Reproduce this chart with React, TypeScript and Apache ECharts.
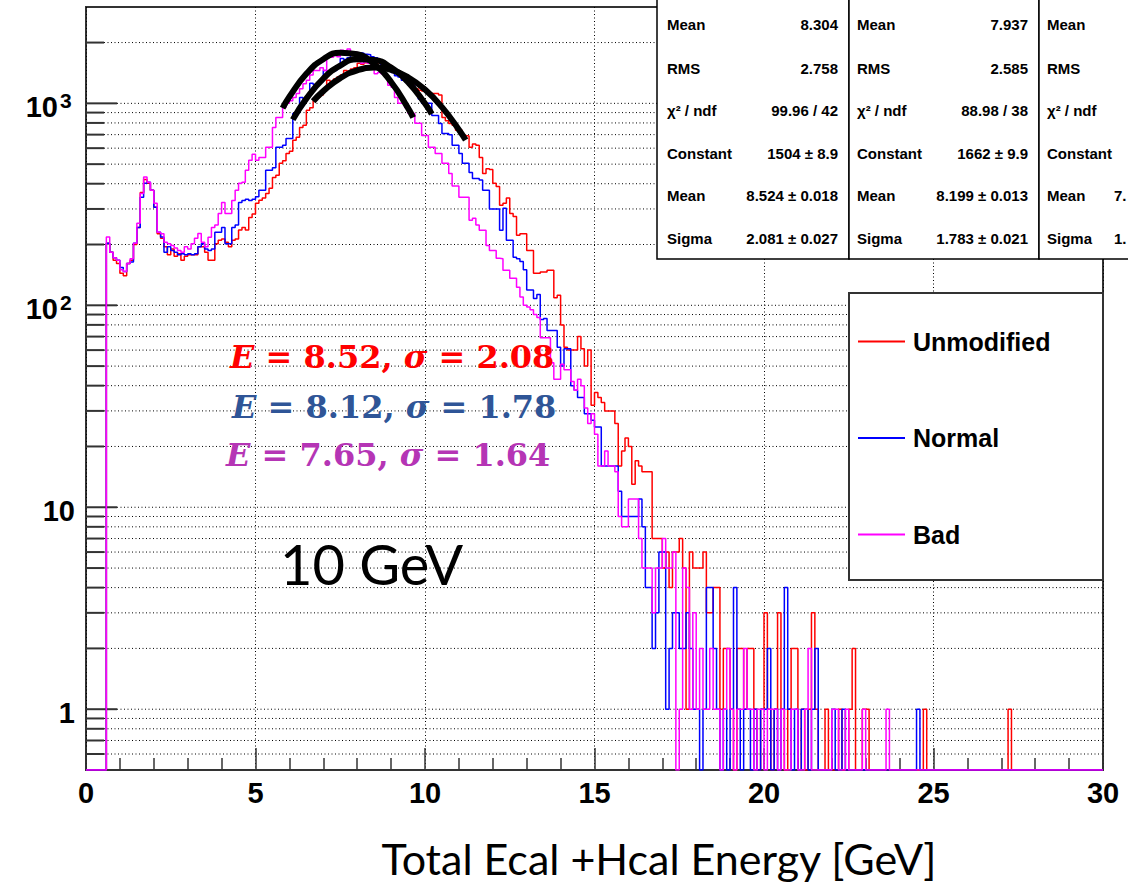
import React, { useEffect, useRef } from 'react';
import * as echarts from 'echarts';

// ---------- data ----------
const BIN_WIDTH = 0.1; // GeV, 300 bins from 0 to 30

// Unmodified (red) counts per 0.1 GeV bin, one row per GeV
const unmodified = [
  0, 0, 0, 0, 0, 0, 203, 183, 167, 161,
  144, 140, 161, 167, 200, 243, 362, 420, 402, 371,
  306, 226, 215, 195, 178, 190, 175, 180, 167, 175,
  178, 178, 178, 195, 195, 183, 167, 167, 202, 210,
  213, 205, 195, 210, 213, 236, 243, 236, 272, 283,
  320, 331, 340, 358, 380, 430, 440, 505, 520, 565,
  580, 656, 680, 760, 780, 924, 950, 1030, 1070, 1100,
  1150, 1300, 1280, 1320, 1350, 1380, 1456, 1440, 1480, 1500,
  1580, 1560, 1590, 1580, 1600, 1570, 1590, 1560, 1540, 1550,
  1450, 1430, 1400, 1376, 1376, 1300, 1250, 1180, 1160, 1150,
  1140, 1130, 1120, 1120, 1100, 850, 820, 795, 780, 735,
  735, 694, 690, 606, 630, 620, 540, 450, 475, 470,
  402, 387, 313, 320, 340, 285, 275, 222, 226, 226,
  187, 187, 144, 144, 146, 146, 149, 149, 109, 112,
  80, 62, 60, 60, 60, 70, 61, 50, 60, 32,
  37, 35, 33, 30, 30, 30, 26, 16, 19, 22,
  20, 13, 17, 16, 15, 15, 15, 7, 7, 7,
  5, 6, 4, 6, 6, 7, 5, 1, 6, 5,
  5, 5, 6, 3, 3, 4, 4, 1, 2, 2,
  1, 0, 2, 2, 1, 2, 2, 1, 0, 1,
  3, 1, 0, 1, 3, 1, 0, 1, 2, 2,
  0, 1, 0, 1, 3, 1, 0, 0, 1, 0,
  0, 0, 1, 0, 0, 1, 2, 0, 0, 1,
  1, 0, 0, 0, 0, 0, 0, 0, 0, 0,
  0, 0, 0, 0, 0, 0, 0, 1, 0, 0,
  0, 0, 0, 0, 0, 0, 0, 0, 0, 0,
  0, 0, 0, 0, 0, 0, 0, 0, 0, 0,
  0, 0, 1, 0, 0, 0, 0, 0, 0, 0,
  0, 0, 0, 0, 0, 0, 0, 0, 0, 0,
  0, 0, 0, 0, 0, 0, 0, 0, 0, 0,
];

// Normal (blue)
const normal = [
  0, 0, 0, 0, 0, 0, 203, 183, 172, 167,
  154, 147, 161, 164, 203, 243, 343, 402, 407, 371,
  306, 230, 218, 183, 195, 187, 183, 178, 180, 178,
  180, 178, 180, 195, 202, 190, 187, 190, 230, 230,
  243, 202, 202, 243, 250, 323, 330, 335, 330, 335,
  345, 371, 371, 466, 466, 480, 606, 606, 620, 670,
  670, 890, 900, 1070, 1050, 1080, 1256, 1240, 1260, 1280,
  1456, 1440, 1470, 1456, 1500, 1670, 1650, 1680, 1770, 1760,
  1780, 1770, 1750, 1740, 1700, 1680, 1640, 1456, 1470, 1456,
  1420, 1370, 1350, 1300, 1280, 1228, 1228, 1150, 1050, 1000,
  1000, 1000, 870, 870, 795, 710, 710, 700, 620, 620,
  565, 505, 505, 455, 425, 425, 417, 371, 371, 300,
  300, 300, 235, 302, 210, 210, 173, 170, 165, 150,
  119, 119, 108, 113, 85, 86, 75, 75, 75, 62,
  50, 61, 61, 40, 38, 35, 35, 29, 29, 27,
  25, 25, 16, 16, 16, 16, 16, 12, 9, 9,
  9, 9, 9, 11, 8, 4, 4, 2, 3, 6,
  6, 1, 2, 3, 3, 2, 2, 3, 2, 1,
  1, 0, 1, 4, 4, 2, 1, 0, 1, 0,
  1, 4, 1, 0, 1, 1, 0, 1, 0, 1,
  1, 2, 0, 1, 0, 1, 4, 1, 0, 1,
  0, 1, 1, 0, 1, 2, 0, 0, 0, 0,
  1, 0, 0, 1, 0, 0, 0, 0, 0, 0,
  0, 0, 0, 0, 0, 0, 0, 0, 0, 0,
  0, 0, 0, 0, 0, 1, 0, 0, 0, 0,
  0, 0, 0, 0, 0, 0, 0, 0, 0, 0,
  0, 0, 0, 0, 0, 0, 0, 0, 0, 0,
  0, 0, 0, 0, 0, 0, 0, 0, 0, 0,
  0, 0, 0, 0, 0, 0, 0, 0, 0, 0,
  0, 0, 0, 0, 0, 0, 0, 0, 0, 0,
];

// Bad (magenta)
const bad = [
  0, 0, 0, 0, 0, 0, 218, 183, 172, 167,
  150, 147, 161, 170, 203, 255, 358, 432, 407, 371,
  320, 230, 226, 205, 202, 198, 192, 187, 183, 195,
  190, 202, 215, 227, 205, 195, 217, 243, 250, 285,
  323, 285, 285, 330, 371, 402, 407, 466, 522, 560,
  522, 540, 540, 606, 606, 760, 852, 852, 955, 1000,
  1030, 1070, 1120, 1180, 1250, 1300, 1380, 1456, 1456, 1500,
  1456, 1690, 1690, 1727, 1700, 1830, 1800, 1860, 1770, 1790,
  1770, 1580, 1600, 1580, 1560, 1400, 1420, 1400, 1380, 1228,
  1200, 1070, 1000, 1000, 955, 892, 892, 796, 796, 694,
  694, 606, 606, 565, 565, 505, 505, 450, 390, 390,
  343, 343, 343, 264, 270, 250, 235, 235, 198, 187,
  187, 171, 170, 149, 149, 136, 136, 123, 110, 100,
  98, 95, 90, 87, 69, 69, 69, 52, 43, 43,
  51, 48, 48, 42, 38, 43, 40, 31, 26, 29,
  23, 16, 16, 19, 16, 16, 15, 9, 8, 8,
  11, 11, 11, 7, 5, 5, 5, 3, 5, 5,
  7, 5, 5, 6, 0, 1, 5, 4, 1, 3,
  1, 2, 1, 1, 2, 1, 1, 0, 1, 2,
  1, 0, 1, 1, 2, 1, 1, 0, 1, 1,
  0, 1, 1, 1, 0, 1, 0, 0, 1, 1,
  0, 0, 1, 2, 0, 0, 0, 0, 0, 0,
  1, 1, 0, 0, 1, 0, 0, 0, 0, 1,
  0, 0, 0, 0, 0, 0, 1, 0, 0, 0,
  0, 0, 0, 0, 0, 0, 0, 0, 0, 0,
  0, 0, 0, 0, 0, 0, 0, 0, 0, 0,
  0, 0, 0, 0, 0, 0, 0, 0, 0, 0,
  0, 0, 0, 0, 0, 0, 0, 0, 0, 0,
  0, 0, 0, 0, 0, 0, 0, 0, 0, 0,
  0, 0, 0, 0, 0, 0, 0, 0, 0, 0,
];

// Gaussian fit curves: [energy, value]
const fitUnmodified = [
  [6.7, 1024], [7.0, 1150], [7.5, 1333], [8.0, 1457], [8.5, 1504], [9.0, 1465],
  [9.5, 1347], [10.0, 1170], [10.5, 958], [11.0, 741], [11.2, 658],
];
const fitNormal = [
  [6.1, 831], [6.5, 1055], [7.0, 1326], [7.5, 1539], [8.0, 1652], [8.5, 1638],
  [9.0, 1503], [9.5, 1274], [10.0, 998], [10.2, 885],
];
const fitBad = [
  [5.8, 947], [6.0, 1079], [6.5, 1400], [7.0, 1655], [7.5, 1783], [8.0, 1750],
  [8.5, 1565], [9.0, 1276], [9.5, 947], [9.65, 851],
];

const seriesNames = ['Unmodified', 'Normal', 'Bad'];
const seriesColors = ['#ff0000', '#0000ff', '#ff00ff'];

const yMajorTicks = [1, 10, 100, 1000];
const yMajorBase = ['1', '10', '10', '10'];
const yMajorExp = ['', '', '2', '3'];
const yMinorTicks = [
  0.6, 0.7, 0.8, 0.9, 2, 3, 4, 5, 6, 7, 8, 9,
  20, 30, 40, 50, 60, 70, 80, 90, 200, 300, 400, 500, 600, 700, 800, 900, 2000,
];

const statsLabels = ['Mean', 'RMS', 'χ² / ndf', 'Constant', 'Mean', 'Sigma'];
const statsUnmodified = ['8.304', '2.758', '99.96 / 42', '1504 ± 8.9', '8.524 ± 0.018', '2.081 ± 0.027'];
const statsNormal = ['7.937', '2.585', '88.98 / 38', '1662 ± 9.9', '8.199 ± 0.013', '1.783 ± 0.021'];
const statsBadVisible = ['', '', '', '', '7.', '1.'];

const annotations = [
  { e: '8.52', s: '2.08', color: '#ff0000' },
  { e: '8.12', s: '1.78', color: '#2f5597' },
  { e: '7.65', s: '1.64', color: '#b535b5' },
];

const FLOOR = 0.5; // axis minimum; empty bins are drawn along the frame bottom

function toSteps(counts: number[]) {
  const pts: number[][] = counts.map((c, i) => [i * BIN_WIDTH, c > 0 ? c : FLOOR]);
  const last = counts[counts.length - 1];
  pts.push([counts.length * BIN_WIDTH, last > 0 ? last : FLOOR]);
  return pts;
}

export default function App() {
  const ref = useRef<HTMLDivElement>(null);

  useEffect(() => {
    if (!ref.current) return;
    const chart = echarts.init(ref.current, null, { renderer: 'svg' });

    const hist = [unmodified, normal, bad];
    const histSeries = hist.map((h, k) => ({
      type: 'line',
      name: seriesNames[k],
      data: toSteps(h),
      step: 'end',
      symbol: 'none',
      clip: true,
      silent: true,
      z: 2 + k * 0.1,
      lineStyle: { color: seriesColors[k], width: 1.5 },
      itemStyle: { color: seriesColors[k] },
    }));

    const fitSeries = [fitUnmodified, fitNormal, fitBad].map((f) => ({
      type: 'line',
      data: f,
      smooth: true,
      symbol: 'none',
      silent: true,
      z: 3,
      lineStyle: { color: '#000', width: 6 },
    }));

    const tickSeries = {
      type: 'custom',
      coordinateSystem: 'cartesian2d',
      silent: true,
      z: 1,
      data: [
        ...yMajorTicks.map((v) => [0, v, 1]),
        ...yMinorTicks.map((v) => [0, v, 0]),
      ],
      renderItem: (params: any, api: any) => {
        const y = api.coord([0, api.value(1)])[1];
        const cs = params.coordSys;
        const len = api.value(2) ? 31 : 18;
        return {
          type: 'group',
          children: [
            {
              type: 'line',
              shape: { x1: cs.x + len, y1: y, x2: cs.x + cs.width, y2: y },
              style: { stroke: '#000', lineWidth: 1, lineDash: [1, 2.5] },
            },
            {
              type: 'line',
              shape: { x1: cs.x, y1: y, x2: cs.x + len, y2: y },
              style: { stroke: '#333', lineWidth: 2 },
            },
          ],
        };
      },
    };

    const labelFont = 'bold 29px "Liberation Sans", Arial, sans-serif';
    const labelSeries = {
      type: 'custom',
      coordinateSystem: 'cartesian2d',
      silent: true,
      z: 5,
      data: yMajorTicks.map((v, i) => [0, v, i]),
      renderItem: (params: any, api: any) => {
        const y = api.coord([0, api.value(1)])[1];
        const cs = params.coordSys;
        const i = api.value(2);
        const exp = yMajorExp[i];
        const children: any[] = [
          {
            type: 'text',
            x: exp ? cs.x - 28 : cs.x - 11,
            y: y + 4,
            style: {
              text: yMajorBase[i], fill: '#000', font: labelFont,
              align: 'right', verticalAlign: 'middle', textAlign: 'right', textVerticalAlign: 'middle',
            },
          },
        ];
        if (exp) {
          children.push({
            type: 'text',
            x: cs.x - 26,
            y: y - 3,
            style: {
              text: exp, fill: '#000', font: 'bold 21px "Liberation Sans", Arial, sans-serif',
              align: 'left', verticalAlign: 'middle', textAlign: 'left', textVerticalAlign: 'middle',
            },
          });
        }
        return { type: 'group', children };
      },
    };

    const statFont = 'bold 15px "Liberation Sans", Arial, sans-serif';
    const graphics: any[] = [];
    // stats boxes
    const boxes = [
      { x: 657, w: 192, values: statsUnmodified, labelX: 667, valueX: 838, valueAlign: 'right' },
      { x: 849, w: 190, values: statsNormal, labelX: 857, valueX: 1028, valueAlign: 'right' },
      { x: 1039, w: 120, values: statsBadVisible, labelX: 1047, valueX: 1114, valueAlign: 'left' },
    ];
    const rowY = [24, 68, 110, 153, 195, 238];
    boxes.forEach((b) => {
      graphics.push({
        type: 'rect', z: 10, silent: true,
        shape: { x: b.x, y: -2, width: b.w, height: 261 },
        style: { fill: '#fff', stroke: '#000', lineWidth: 1.5 },
      });
      statsLabels.forEach((lab, r) => {
        graphics.push({
          type: 'text', z: 11, silent: true,
          style: {
            text: lab, x: b.labelX, y: rowY[r], fill: '#000', font: statFont,
            align: 'left', verticalAlign: 'middle', textAlign: 'left', textVerticalAlign: 'middle',
          },
        });
        if (b.values[r]) {
          graphics.push({
            type: 'text', z: 11, silent: true,
            style: {
              text: b.values[r], x: b.valueX, y: rowY[r], fill: '#000', font: statFont,
              align: b.valueAlign, verticalAlign: 'middle', textAlign: b.valueAlign, textVerticalAlign: 'middle',
            },
          });
        }
      });
    });
    // legend box
    graphics.push({
      type: 'rect', z: 10, silent: true,
      shape: { x: 849, y: 293, width: 254, height: 287 },
      style: { fill: '#fff', stroke: '#333', lineWidth: 2 },
    });
    // fit annotations
    const annY = [357, 407, 455];
    const annX = [230, 232, 226];
    annotations.forEach((a, k) => {
      graphics.push({
        type: 'text', z: 12, silent: true,
        style: {
          text: `{i|E} = ${a.e}, {i|σ} = ${a.s}`,
          x: annX[k], y: annY[k], fill: a.color,
          font: 'bold 32px "DejaVu Serif", serif',
          align: 'left', verticalAlign: 'middle', textAlign: 'left', textVerticalAlign: 'middle',
          rich: {
            i: { fontStyle: 'italic', fontWeight: 'bold', fontFamily: 'DejaVu Serif', fontSize: 32, fill: a.color },
          },
        },
      });
    });
    graphics.push({
      type: 'text', z: 12, silent: true,
      style: {
        text: '10 GeV', x: 280, y: 563, fill: '#000',
        font: '56px Lato, "Open Sans", sans-serif',
        align: 'left', verticalAlign: 'middle', textAlign: 'left', textVerticalAlign: 'middle',
      },
    });
    graphics.push({
      type: 'text', z: 12, silent: true,
      style: {
        text: 'Total Ecal +Hcal Energy [GeV]', x: 659, y: 858, fill: '#000',
        font: '43px Lato, "Open Sans", sans-serif',
        align: 'center', verticalAlign: 'middle', textAlign: 'center', textVerticalAlign: 'middle',
      },
    });

    chart.setOption({
      animation: false,
      backgroundColor: '#fff',
      grid: {
        left: 86, right: 25, top: 7, bottom: 124,
        show: true, borderColor: '#333', borderWidth: 2, backgroundColor: 'transparent',
        outerBoundsMode: 'none',
      },
      xAxis: {
        type: 'value', min: 0, max: 30, interval: 5,
        axisLine: { show: true, lineStyle: { color: '#333', width: 2 } },
        axisTick: { show: true, inside: true, length: 22, lineStyle: { color: '#333', width: 1.5 } },
        minorTick: { show: true, splitNumber: 5, length: 12, lineStyle: { color: '#333', width: 1.5 } },
        splitLine: { show: true, lineStyle: { color: '#000', width: 1, type: [1, 2.5] } },
        axisLabel: {
          show: true, margin: 8, color: '#000',
          fontFamily: 'Liberation Sans', fontWeight: 'bold', fontSize: 29,
        },
      },
      yAxis: {
        type: 'log', logBase: 10, min: 0.5, max: 3000,
        axisLine: { show: false }, axisTick: { show: false },
        axisLabel: { show: false }, splitLine: { show: false },
      },
      legend: {
        data: seriesNames,
        orient: 'vertical',
        left: 858, top: 329,
        padding: 0,
        icon: 'rect',
        itemWidth: 47, itemHeight: 2, itemGap: 71.5,
        selectedMode: false,
        z: 20,
        textStyle: {
          color: '#000', fontFamily: 'Liberation Sans', fontWeight: 'bold', fontSize: 25,
          lineHeight: 24, padding: [0, 0, 0, 3],
        },
      },
      graphic: { elements: graphics },
      series: [tickSeries, ...histSeries, ...fitSeries, labelSeries],
    });

    return () => chart.dispose();
  }, []);

  return (
    <div
      ref={ref}
      style={{ position: 'absolute', left: 0, top: 0, width: 1128, height: 894, background: '#fff' }}
    />
  );
}
